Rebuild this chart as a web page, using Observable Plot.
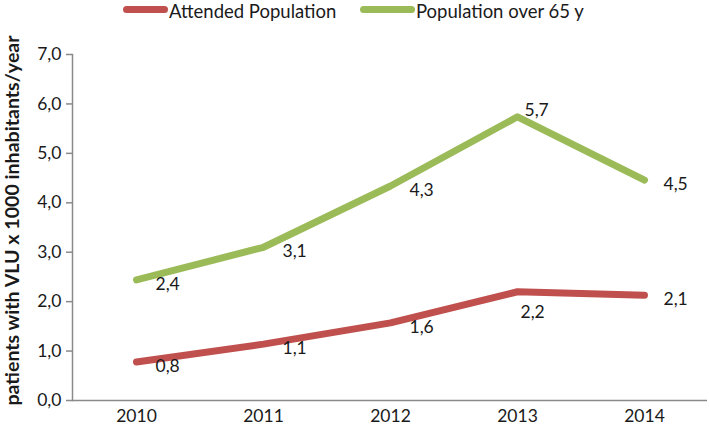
<!DOCTYPE html>
<html>
<head>
<meta charset="utf-8">
<script src="https://cdn.jsdelivr.net/npm/d3@7"></script>
<script src="https://cdn.jsdelivr.net/npm/@observablehq/plot@0.6"></script>
<style>
  body { margin: 0; background: #fff; font-family: Lato, "Open Sans", sans-serif; }
  #wrap { width: 709px; height: 426px; position: relative; overflow: hidden; }
  #legend { position: relative; height: 20px; font-size: 18.5px; line-height: 23px; color: #1a1a1a; }
  .item { position: absolute; top: 0; display: flex; align-items: flex-start; height: 23px; white-space: nowrap; }
  .sw { display: inline-block; height: 7px; border-radius: 4px; margin-right: 1px; margin-top: 6px; }
  svg { display: block; overflow: visible; }
</style>
</head>
<body>
<div id="wrap">
  <div id="legend"></div>
  <div id="chart"></div>
</div>
<script>
const years = ["2010", "2011", "2012", "2013", "2014"];
const seriesNames = ["Attended Population", "Population over 65 y"];
const attended = [0.78, 1.14, 1.57, 2.2, 2.13];
const over65 = [2.44, 3.1, 4.34, 5.74, 4.46];
const yTicks = [0, 1, 2, 3, 4, 5, 6, 7];
const colors = ["#C0504D", "#9BBB59"];
const yLabel = "patients with VLU x 1000 inhabitants/year";

const fmt = v => d3.format(".1f")(v).replace(".", ",");

const data = [];
years.forEach((y, i) => data.push({year: y, series: seriesNames[0], value: attended[i]}));
years.forEach((y, i) => data.push({year: y, series: seriesNames[1], value: over65[i]}));

// legend
const legend = document.getElementById("legend");
const legendPos = [{left: 123, w: 45}, {left: 360, w: 55}];
seriesNames.forEach((s, i) => {
  const it = document.createElement("div");
  it.className = "item";
  it.style.left = legendPos[i].left + "px";
  const sw = document.createElement("span");
  sw.className = "sw";
  sw.style.width = legendPos[i].w + "px";
  sw.style.background = colors[i];
  it.appendChild(sw);
  it.appendChild(document.createTextNode(s));
  legend.appendChild(it);
});

const isPeak = d => d.year === "2013";
const fs = 17.5;

const chart = Plot.plot({
  width: 709,
  height: 406,
  marginTop: 34,
  marginBottom: 26,
  marginLeft: 72,
  marginRight: 2,
  style: {fontFamily: "Lato, 'Open Sans', sans-serif", fontSize: fs + "px", color: "#1a1a1a", background: "#fff", overflow: "visible"},
  x: {type: "point", domain: years, padding: 0.5, label: null},
  y: {domain: [0, 7], label: null},
  color: {domain: seriesNames, range: colors},
  marks: [
    Plot.ruleY([0], {stroke: "#8a8a8a", strokeWidth: 1.5}),
    Plot.frame({anchor: "left", stroke: "#8a8a8a", strokeWidth: 1.5}),
    Plot.axisY({ticks: yTicks, tickFormat: fmt, tickSize: 6, tickPadding: 5, stroke: "#8a8a8a", strokeWidth: 1.5, fontSize: fs, label: null}),
    Plot.axisX({tickSize: 0, tickPadding: 9, fontSize: fs, label: null}),
    Plot.text([yLabel], {frameAnchor: "left", rotate: -90, textAnchor: "middle", dx: -60, dy: -7, fontWeight: "bold", fontSize: 19.6, fill: "#1a1a1a"}),
    Plot.line(data, {x: "year", y: "value", z: "series", stroke: "series", strokeWidth: 7, strokeLinecap: "round", strokeLinejoin: "round"}),
    Plot.text(data, {filter: d => !isPeak(d), x: "year", y: "value", text: d => fmt(d.value), textAnchor: "start", dx: 19, dy: 4, fontSize: fs, fill: "#1a1a1a"}),
    Plot.text(data, {filter: d => isPeak(d) && d.series === seriesNames[1], x: "year", y: "value", text: d => fmt(d.value), textAnchor: "start", dx: 7, dy: -6, fontSize: fs, fill: "#1a1a1a"}),
    Plot.text(data, {filter: d => isPeak(d) && d.series === seriesNames[0], x: "year", y: "value", text: d => fmt(d.value), textAnchor: "start", dx: 3, dy: 21, fontSize: fs, fill: "#1a1a1a"})
  ]
});
document.getElementById("chart").appendChild(chart);
</script>
</body>
</html>
